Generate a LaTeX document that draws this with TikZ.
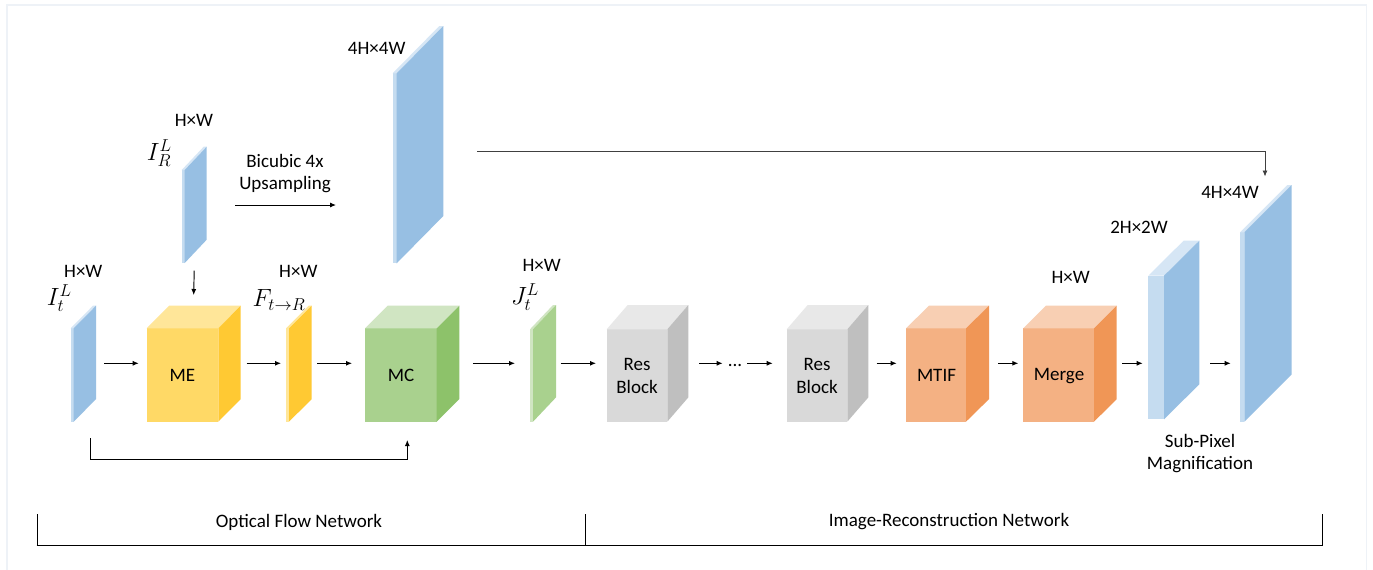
\documentclass[tikz,border=0pt]{standalone}
\usepackage{fontspec}
\setmainfont{Carlito}
\usetikzlibrary{arrows.meta}
\definecolor{bluefront}{HTML}{C5DCF0}
\definecolor{blueside}{HTML}{97BFE3}
\definecolor{bluetop}{HTML}{D6E6F5}
\definecolor{yfront}{HTML}{FFD966}
\definecolor{ytop}{HTML}{FFE699}
\definecolor{yside}{HTML}{FFC933}
\definecolor{gfront}{HTML}{A9D18E}
\definecolor{gtop}{HTML}{D0E5C2}
\definecolor{gside}{HTML}{8DC26A}
\definecolor{rfront}{HTML}{D9D9D9}
\definecolor{rtop}{HTML}{E8E8E8}
\definecolor{rside}{HTML}{BFBFBF}
\definecolor{ofront}{HTML}{F4B183}
\definecolor{otop}{HTML}{F8CFB3}
\definecolor{oside}{HTML}{F09656}
\definecolor{frame}{HTML}{EEF2F7}
\definecolor{skipline}{HTML}{404040}
\newcommand\blockbox[8]{% name, w, h, dx, dy, front, top, side
  \fill[#6] (#1.south west) rectangle ++(#2,-#3);
  \fill[#7] (#1.south west) ++(0,-#3) -- ++(#2,0) -- ++(#4,-#5) -- ++(-#2,0) -- cycle;
  \fill[#8] (#1.south west) ++(#2,0) -- ++(0,-#3) -- ++(#4,-#5) -- ++(0,#3) -- cycle;
}
\tikzset{
  bb/.style={draw=none, inner sep=0pt, outer sep=0pt, rectangle},
  lbl/.style={inner sep=0pt, font=\fontsize{19}{22.5}\selectfont},
  mlbl/.style={inner sep=0pt, font=\fontsize{24}{28}\selectfont},
  arr/.style={-{Latex[length=6pt,width=5pt]}, line width=0.95pt, black},
}
\begin{document}
\begin{tikzpicture}[x=1pt,y=-1pt]
\useasboundingbox (0,0) rectangle (1373,570);
\fill[white] (0,0) rectangle (1373,570);
\draw[frame, line width=1.2pt] (7,572) -- (7,5) -- (1366.5,5) -- (1366.5,572);

% bounding nodes of the blocks
\node[bb, minimum width=25.3, minimum height=116] (it) at (83.35,363.7) {};
\node[bb, minimum width=25, minimum height=116.3] (ir) at (194.2,204.85) {};
\node[bb, minimum width=94, minimum height=116] (me) at (193.7,363.7) {};
\node[bb, minimum width=25.7, minimum height=116] (fl) at (298.85,363.7) {};
\node[bb, minimum width=50.6, minimum height=237.3] (up) at (418,144.65) {};
\node[bb, minimum width=94.3, minimum height=116] (mc) at (412.15,363.7) {};
\node[bb, minimum width=26, minimum height=116.7] (jt) at (543,363.35) {};
\node[bb, minimum width=81.6, minimum height=116.7] (rb1) at (647.5,363.35) {};
\node[bb, minimum width=81.6, minimum height=116.7] (rb2) at (827.5,363.35) {};
\node[bb, minimum width=83, minimum height=116] (mtif) at (947.5,363.7) {};
\node[bb, minimum width=93.4, minimum height=116] (mrg) at (1070,363.7) {};
\node[bb, minimum width=51, minimum height=178.6] (sp2) at (1173.8,330) {};
\node[bb, minimum width=51.7, minimum height=236.7] (sp4) at (1265.85,303.35) {};

% faces
\blockbox{it}{3}{93.4}{22.3}{22.6}{bluefront}{bluetop}{blueside}
\blockbox{ir}{3}{93}{22}{23.3}{bluefront}{bluetop}{blueside}
\blockbox{me}{71.6}{93.4}{22.4}{22.6}{yfront}{ytop}{yside}
\blockbox{fl}{3}{93.4}{22.7}{22.6}{ytop}{ytop}{yside}
\blockbox{up}{4}{190}{46.6}{47.3}{bluefront}{bluetop}{blueside}
\blockbox{mc}{71.7}{93.4}{22.6}{22.6}{gfront}{gtop}{gside}
\blockbox{jt}{3}{92.4}{23}{24.3}{gtop}{gtop}{gfront}
\blockbox{rb1}{60.6}{92.4}{21}{24.3}{rfront}{rtop}{rside}
\blockbox{rb2}{60.6}{92.4}{21}{24.3}{rfront}{rtop}{rside}
\blockbox{mtif}{60}{93.4}{23}{22.6}{ofront}{otop}{oside}
\blockbox{mrg}{70.7}{93.4}{22.7}{22.6}{ofront}{otop}{oside}
\blockbox{sp2}{15.7}{143.6}{35.3}{35}{bluefront}{bluetop}{blueside}
\blockbox{sp4}{4.3}{189.4}{47.4}{47.3}{bluefront}{bluetop}{blueside}

% block texts
\node[lbl] (tme) at (182.5,375.5) {ME};
\node[lbl] (tmc) at (401,375.5) {MC};
\node[lbl, align=center] (trb1) at (637,376) {Res\\Block};
\node[lbl, align=center] (trb2) at (817,376) {Res\\Block};
\node[lbl] (tmtif) at (936.5,375.7) {MTIF};
\node[lbl] (tmrg) at (1059,375.7) {Merge};

% labels
\node[lbl] (hwir) at (194,120.7) {H×W};
\node[mlbl] (lir) at (159.3,153) {$I_R^L$};
\node[lbl] (hwit) at (83.3,271.7) {H×W};
\node[mlbl] (lit) at (59.3,298) {$I_t^L$};
\node[lbl] (hwfl) at (298.3,271.7) {H×W};
\node[mlbl] (lfl) at (279,300) {$F_{t\to R}$};
\node[lbl] (hwup) at (376.7,48.3) {4H×4W};
\node[lbl, align=center] (bicub) at (285,173.5) {Bicubic 4x\\Upsampling};
\node[lbl] (hwjt) at (541.7,265) {H×W};
\node[mlbl] (ljt) at (525,296.7) {$J_t^L$};
\node[lbl] (dots) at (735,365) {...};
\node[lbl] (hwmrg) at (1070.7,277.3) {H×W};
\node[lbl] (hwsp2) at (1139,227.7) {2H×2W};
\node[lbl] (hwsp4) at (1230,192.7) {4H×4W};
\node[lbl, align=center] (subpix) at (1200,453.5) {Sub-Pixel\\Magnification};

% main flow arrows
\coordinate (row) at (0,363.3);
\draw[arr] ([xshift=8pt]it.east |- row) -- ([xshift=-8pt]me.west |- row);
\draw[arr] ([xshift=6pt]me.east |- row) -- ([xshift=-5pt]fl.west |- row);
\draw[arr] ([xshift=5.6pt]fl.east |- row) -- ([xshift=-13pt]mc.west |- row);
\draw[arr] ([xshift=13.5pt]mc.east |- row) -- ([xshift=-15pt]jt.west |- row);
\draw[arr] ([xshift=4.7pt]jt.east |- row) -- ([xshift=-10.7pt]rb1.west |- row);
\draw[arr] ([xshift=11pt]rb1.east |- row) -- ([xshift=-5pt]dots.west |- row);
\draw[arr] ([xshift=5pt]dots.east |- row) -- ([xshift=-14pt]rb2.west |- row);
\draw[arr] ([xshift=8.4pt]rb2.east |- row) -- ([xshift=-9.3pt]mtif.west |- row);
\draw[arr] ([xshift=9.3pt]mtif.east |- row) -- ([xshift=-5pt]mrg.west |- row);
\draw[arr] ([xshift=5.6pt]mrg.east |- row) -- ([xshift=-5.6pt]sp2.west |- row);
\draw[arr] ([xshift=10.7pt]sp2.east |- row) -- ([xshift=-9.3pt]sp4.west |- row);

% I_R -> ME
\draw[arr] ([yshift=-7.7pt]ir.south) -- ([yshift=10.7pt]me.north);

% upsampling arrow
\coordinate (ua) at (235,205);
\coordinate (ub) at (336,205);
\draw[arr] (ua) -- (ub);

% long skip connection
\coordinate (sk0) at (477,151);
\coordinate (sk1) at (1265,176.5);
\draw[arr, draw=skipline, line width=0.8pt] (sk0) -| (sk1);

% bottom skip connection
\coordinate (bs0) at (90.7,438);
\coordinate (bs1) at (407.3,440);
\draw[arr] (bs0) |- (407.3,459.3) -- (bs1);

% bottom brackets
\coordinate (br0) at (37,514);
\coordinate (br1) at (585,514);
\coordinate (br2) at (1322,514);
\node[lbl] (ofn) at (299,522) {Optical Flow Network};
\node[lbl] (irn) at (949,522) {Image-Reconstruction Network};
\draw[line width=1pt] (br0) -- (37,545.5);
\draw[line width=1pt] (br1) -- (585,545.5);
\draw[line width=1pt] (br2) -- (1322,545.5);
\draw[line width=1.8pt] (36.5,545.5) -- (1322.5,545.5);
\end{tikzpicture}
\end{document}
